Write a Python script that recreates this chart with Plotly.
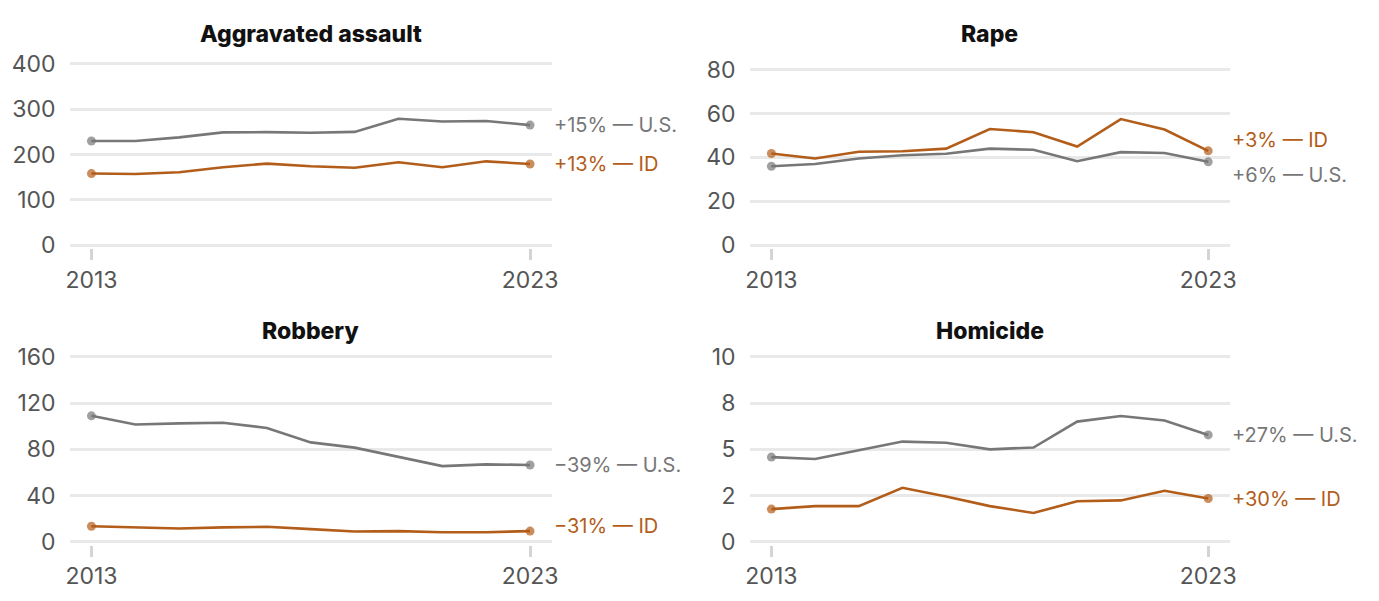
import plotly.graph_objects as go

years = list(range(2013, 2024))

assault_us = [230, 230, 238, 249, 249.5, 248, 250, 279, 273, 274, 265]
assault_id = [158, 157, 161, 172, 180, 174, 171, 183, 172, 185, 179]
rape_us = [36, 37, 39.5, 41, 41.7, 44, 43.5, 38.3, 42.4, 42, 38]
rape_id = [41.8, 39.5, 42.6, 42.8, 44, 53, 51.5, 45, 57.5, 52.7, 43]
robbery_us = [109, 101.5, 102.5, 103, 98.5, 86, 81.5, 73.5, 65.5, 67, 66.5]
robbery_id = [13.5, 12.5, 11.5, 12.5, 13, 11, 9, 9.3, 8.3, 8.3, 9.3]
homicide_us = [4.58, 4.48, 4.95, 5.42, 5.36, 5.0, 5.1, 6.5, 6.8, 6.56, 5.78]
homicide_id = [1.77, 1.93, 1.93, 2.92, 2.45, 1.93, 1.56, 2.19, 2.24, 2.76, 2.34]

titles = ["Aggravated assault", "Rape", "Robbery", "Homicide"]
yticks = [[0, 100, 200, 300, 400], [0, 20, 40, 60, 80], [0, 40, 80, 120, 160], [0, 2.5, 5, 7.5, 10]]
yticktext = [["0", "100", "200", "300", "400"], ["0", "20", "40", "60", "80"],
             ["0", "40", "80", "120", "160"], ["0", "2", "5", "8", "10"]]
us_labels = ["+15% — U.S.", "+6% — U.S.", "−39% — U.S.", "+27% — U.S."]
id_labels = ["+13% — ID", "+3% — ID", "−31% — ID", "+30% — ID"]
series_us = [assault_us, rape_us, robbery_us, homicide_us]
series_id = [assault_id, rape_id, robbery_id, homicide_id]

W, H = 1379, 601
GRAY = "#777777"
ORANGE = "#b35d1a"
GRID = "#e9e9e9"
FONT = "Inter"

# layout geometry (pixels)
panels = [
    dict(x0=66, x1=552, ytop=55, ybot=243, us_shift=0, id_shift=0, ty=24),
    dict(x0=751, x1=1235, ytop=61, ybot=243, us_shift=-13, id_shift=11, ty=24),
    dict(x0=66, x1=552, ytop=359, ybot=551, us_shift=0, id_shift=5, ty=332),
    dict(x0=751, x1=1235, ytop=359, ybot=551, us_shift=0, id_shift=0, ty=332),
]

fig = go.Figure()
annotations = []
pad = 3
for i in range(4):
    p = panels[i]
    ax = "" if i == 0 else str(i + 1)
    vtop = yticks[i][-1]
    scale = (p["ybot"] - p["ytop"]) / vtop
    top_px = 55 if i < 2 else 359
    yr = [-pad / scale, (p["ybot"] - top_px + pad) / scale]
    ydom = [1 - (p["ybot"] + pad) / H, 1 - (top_px - pad) / H]
    xdom = [p["x0"] / W, p["x1"] / W]
    n = len(years)
    sizes = [9] + [0] * (n - 2) + [9]
    fig.add_trace(go.Scatter(x=years, y=series_us[i], mode="lines+markers",
                             line=dict(color=GRAY, width=2.6),
                             marker=dict(size=sizes, color=GRAY, line=dict(width=0)),
                             xaxis="x" + ax, yaxis="y" + ax, showlegend=False, hoverinfo="skip"))
    fig.add_trace(go.Scatter(x=years, y=series_id[i], mode="lines+markers",
                             line=dict(color=ORANGE, width=2.6),
                             marker=dict(size=sizes, color=ORANGE, line=dict(width=0)),
                             xaxis="x" + ax, yaxis="y" + ax, showlegend=False, hoverinfo="skip"))
    fig.layout["xaxis" + ax] = dict(
        domain=xdom, range=[2012.5, 2023.5], anchor="y" + ax,
        tickvals=[2013, 2023], ticktext=["2013", "2023"],
        ticks="outside", ticklen=11, tickwidth=2.5, tickcolor="#d4d4d4",
        tickfont=dict(family=FONT, size=23, color="#555555"),
        showgrid=False, zeroline=False, showline=False, fixedrange=True,
    )
    fig.layout["yaxis" + ax] = dict(
        domain=ydom, range=yr, anchor="x" + ax,
        tickvals=yticks[i], ticktext=yticktext[i],
        ticks="", ticklabelstandoff=13,
        tickfont=dict(family=FONT, size=23, color="#555555"),
        showgrid=True, gridcolor=GRID, gridwidth=2.5,
        zeroline=False, showline=False, fixedrange=True,
    )
    annotations.append(dict(x=(p["x0"] + p["x1"]) / 2 / W, y=1 - p["ty"] / H,
                            xref="paper", yref="paper", text=titles[i],
                            showarrow=False, xanchor="center", yanchor="middle",
                            font=dict(family=FONT, size=23, color="#111111", weight=800)))
    annotations.append(dict(x=2023, y=series_us[i][-1], xref="x" + ax, yref="y" + ax,
                            text=us_labels[i], showarrow=False, xanchor="left", yanchor="middle",
                            xshift=22, yshift=p["us_shift"],
                            font=dict(family=FONT, size=20, color="#777777")))
    annotations.append(dict(x=2023, y=series_id[i][-1], xref="x" + ax, yref="y" + ax,
                            text=id_labels[i], showarrow=False, xanchor="left", yanchor="middle",
                            xshift=22, yshift=p["id_shift"],
                            font=dict(family=FONT, size=20, color=ORANGE)))

fig.update_layout(
    width=W, height=H, margin=dict(l=0, r=0, t=0, b=0),
    paper_bgcolor="white", plot_bgcolor="white",
    annotations=annotations,
)
fig.write_html("out.html", config={"displayModeBar": False},
               post_script="document.body.style.margin='0';document.body.style.padding='0';")
